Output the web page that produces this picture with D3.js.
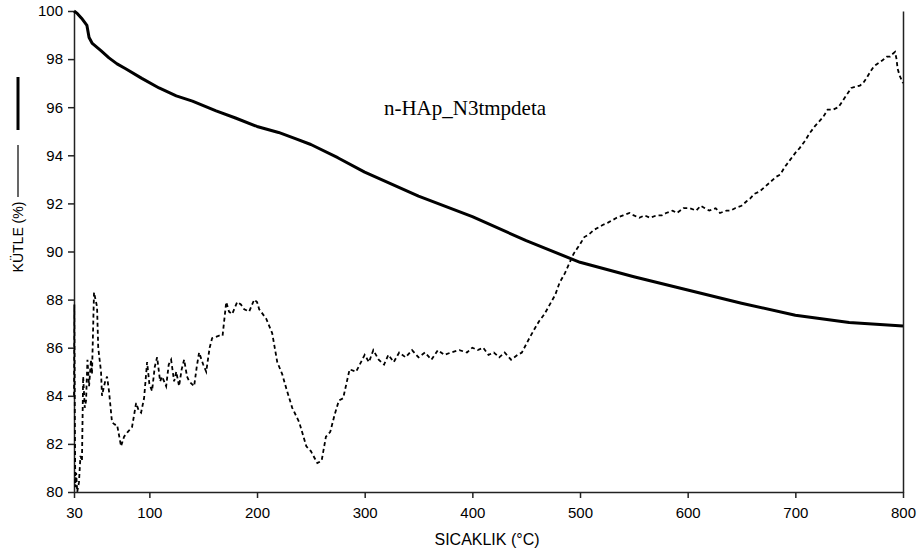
<!DOCTYPE html>
<html>
<head>
<meta charset="utf-8">
<script src="https://cdn.jsdelivr.net/npm/d3@7/dist/d3.min.js"></script>
<style>
  body { margin: 0; background: #fff; }
  svg { display: block; }
  .axis text { font-family: "Liberation Sans", Arial, sans-serif; font-size: 15px; fill: #000; }
  .axis path, .axis line { stroke: #222; stroke-width: 1.5; }
</style>
</head>
<body>
<div id="chart"></div>
<script>
// x ticks / y ticks
var xTicks = [30, 100, 200, 300, 400, 500, 600, 700, 800];
var yTicks = [80, 82, 84, 86, 88, 90, 92, 94, 96, 98, 100];

// mass curve (solid)
var massTemp = [30, 33, 37, 42, 44, 47, 55, 62.5, 70, 78, 93, 109, 125, 140, 162, 180, 200, 220, 235, 250, 275, 300, 350, 400, 450, 500, 550, 600, 650, 700, 750, 800];
var mass = [100, 99.9, 99.7, 99.4, 98.9, 98.65, 98.35, 98.05, 97.8, 97.6, 97.2, 96.8, 96.47, 96.25, 95.85, 95.55, 95.2, 94.95, 94.7, 94.45, 93.9, 93.3, 92.3, 91.45, 90.45, 89.55, 88.95, 88.4, 87.85, 87.35, 87.05, 86.9];

// derivative curve (dashed)
var derivTemp = [30, 30.3, 30.8, 31.2, 32, 33, 34.6, 36, 37.4, 38.5, 40, 41.2, 42.5, 44, 45.8, 46.7, 48.6, 50, 51.4, 52.5, 55.1, 56, 57.9, 59, 60.7, 62.5, 65.3, 68, 70, 73.7, 76.5, 80, 83.9, 87.7, 90, 92.3, 95.1, 97.9, 100, 102.5, 105, 107.2, 110, 111.8, 115.6, 118, 120.2, 123, 125, 127.6, 130, 132.3, 135, 137, 141.6, 144, 146.2, 150, 152.8, 156, 158.3, 164.8, 168, 171.4, 174, 176.9, 181.6, 185, 188.1, 192.7, 197.4, 200, 202, 208.6, 214.1, 218.8, 223.4, 227.2, 232.7, 239.2, 245.8, 250, 256, 260, 264, 268, 272, 276, 280, 286, 292, 300, 304, 308, 313, 318, 322, 327, 332, 338, 344, 350, 356, 362, 368, 374, 380, 388, 395, 400, 405, 410, 415, 420, 425, 430, 436, 442, 446, 453, 458, 462, 467, 472, 477, 481, 486, 490, 494, 497, 500, 504, 508, 513, 517, 521, 526, 530, 534, 540, 546, 550, 555, 560, 565, 571, 576, 580, 586, 590, 596, 602, 608, 612, 616, 620, 626, 630, 636, 640, 644, 650, 655, 658, 662, 667, 672, 677, 682, 686, 690, 695, 700, 704, 709, 713, 718, 722, 726, 730, 735, 740, 743, 746, 749, 752, 756, 760, 763, 766, 770, 773, 776, 781, 785, 788, 790, 792.6, 794, 795, 797, 799, 800];
var deriv = [84, 87.8, 83, 80.2, 80.8, 80.0, 80.4, 81.5, 81.3, 84.8, 83.5, 83.8, 85.5, 84.4, 85.5, 84.9, 88.3, 88.0, 87.7, 86, 85.0, 84.0, 84.4, 84.6, 84.8, 84.2, 82.9, 82.8, 82.8, 81.9, 82.3, 82.5, 82.7, 83.7, 83.4, 83.3, 83.9, 85.4, 84.5, 84.2, 85.2, 85.6, 84.6, 84.8, 84.4, 85.3, 85.5, 84.6, 85.0, 84.4, 85.1, 85.5, 84.8, 84.6, 84.4, 85.2, 85.8, 85.3, 85.0, 86.0, 86.4, 86.5, 86.5, 87.9, 87.5, 87.4, 87.9, 87.8, 87.6, 87.5, 88.0, 87.9, 87.6, 87.2, 86.6, 85.4, 84.9, 84.3, 83.5, 82.9, 81.9, 81.7, 81.2, 81.3, 82.3, 82.5, 83.2, 83.8, 83.9, 85.1, 85.0, 85.7, 85.4, 85.9, 85.5, 85.3, 85.7, 85.4, 85.8, 85.6, 85.9, 85.6, 85.8, 85.5, 85.9, 85.7, 85.8, 85.9, 85.8, 86.0, 85.9, 86.0, 85.7, 85.8, 85.6, 85.8, 85.5, 85.7, 85.8, 86.4, 86.8, 87.1, 87.4, 87.8, 88.2, 88.7, 89.1, 89.5, 89.9, 90.1, 90.3, 90.6, 90.7, 90.9, 91.0, 91.1, 91.2, 91.3, 91.4, 91.5, 91.6, 91.5, 91.4, 91.5, 91.4, 91.5, 91.5, 91.6, 91.7, 91.6, 91.8, 91.8, 91.7, 91.9, 91.8, 91.7, 91.8, 91.6, 91.7, 91.7, 91.8, 91.9, 92.1, 92.2, 92.4, 92.5, 92.7, 92.9, 93.1, 93.2, 93.5, 93.8, 94.1, 94.3, 94.6, 94.9, 95.2, 95.4, 95.6, 95.9, 95.9, 96.0, 96.2, 96.4, 96.6, 96.8, 96.85, 96.9, 97.0, 97.2, 97.5, 97.7, 97.8, 97.95, 98.1, 98.1, 98.2, 98.3, 98.0, 97.6, 97.3, 97.1, 97.0];

var titleText = "n-HAp_N3tmpdeta";
var xLabel = "SICAKLIK (°C)";
var yLabel = "KÜTLE (%)";

var width = 921, height = 555;
var mLeft = 74, mRight = 903, mTop = 11, mBottom = 492;

var svg = d3.select("#chart").append("svg").attr("width", width).attr("height", height);

var x = d3.scaleLinear().domain([30, 800]).range([mLeft, mRight]);
var y = d3.scaleLinear().domain([80, 100]).range([mBottom, mTop]);

// axes
svg.append("g").attr("class", "axis")
  .attr("transform", "translate(0," + mBottom + ")")
  .call(d3.axisBottom(x).tickValues(xTicks).tickSize(6).tickSizeOuter(0).tickPadding(9));

svg.append("g").attr("class", "axis")
  .attr("transform", "translate(" + mLeft + ",0)")
  .call(d3.axisLeft(y).tickValues(yTicks).tickSize(6).tickSizeOuter(0).tickPadding(5));

svg.append("g").attr("class", "axis")
  .attr("transform", "translate(" + mRight + ",0)")
  .call(d3.axisRight(y).tickValues([]).tickSizeOuter(0));

// lines
var massData = massTemp.map(function(t, i){ return [t, mass[i]]; });
var derivData = derivTemp.map(function(t, i){ return [t, deriv[i]]; });

var line = d3.line().x(function(d){ return x(d[0]); }).y(function(d){ return y(d[1]); });

svg.append("path").datum(derivData)
  .attr("d", line)
  .attr("fill", "none").attr("stroke", "#000")
  .attr("stroke-width", 1.8).attr("stroke-dasharray", "4,3");

svg.append("path").datum(massData)
  .attr("d", line)
  .attr("fill", "none").attr("stroke", "#000")
  .attr("stroke-width", 3).attr("stroke-linejoin", "round");

// title inside plot
svg.append("text")
  .attr("x", 465).attr("y", 115)
  .attr("text-anchor", "middle")
  .style("font-family", "'Liberation Serif', 'Times New Roman', serif")
  .style("font-size", "21px")
  .text(titleText);

// x axis title
svg.append("text")
  .attr("x", 487).attr("y", 545)
  .attr("text-anchor", "middle")
  .style("font-family", "'Liberation Sans', Arial, sans-serif")
  .style("font-size", "16px")
  .text(xLabel);

// y axis title with line keys
svg.append("line").attr("x1", 18).attr("x2", 18).attr("y1", 77).attr("y2", 130)
  .attr("stroke", "#000").attr("stroke-width", 3);
svg.append("line").attr("x1", 18).attr("x2", 18).attr("y1", 145).attr("y2", 197)
  .attr("stroke", "#000").attr("stroke-width", 1.2);
svg.append("text")
  .attr("transform", "translate(23,237) rotate(-90)")
  .attr("text-anchor", "middle")
  .style("font-family", "'Liberation Sans', Arial, sans-serif")
  .style("font-size", "14px")
  .text(yLabel);
</script>
</body>
</html>
